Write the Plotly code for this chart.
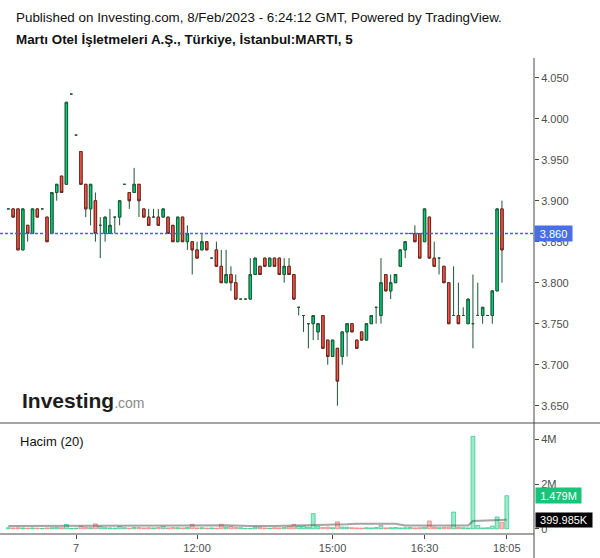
import plotly.graph_objects as go

# ---------------- data ----------------
opens = [3.89,3.89,3.89,3.84,3.87,3.86,3.89,3.89,3.88,3.86,3.91,3.93,3.92,4.03,3.98,3.96,3.92,3.89,3.90,3.87,
         3.86,3.86,3.88,3.88,3.92,3.91,3.91,3.92,3.89,3.88,3.88,3.88,3.88,3.88,3.87,3.85,3.88,3.85,3.85,3.84,
         3.84,3.85,3.83,3.84,3.82,3.80,3.81,3.80,3.78,3.78,3.78,3.81,3.82,3.83,3.82,3.83,3.83,3.81,3.82,3.81,
         3.77,3.76,3.75,3.75,3.74,3.76,3.73,3.71,3.72,3.71,3.74,3.75,3.73,3.74,3.73,3.75,3.77,3.76,3.81,3.79,
         3.80,3.82,3.84,3.86,3.86,3.86,3.85,3.88,3.83,3.83,3.82,3.80,3.76,3.76,3.76,3.75,3.75,3.76,3.76,3.76,
         3.76,3.79,3.89,3.86]
highs = [3.89,3.89,3.89,3.89,3.87,3.89,3.89,3.89,3.88,3.91,3.92,3.93,4.02,4.03,3.98,3.96,3.92,3.92,3.91,3.88,
         3.88,3.89,3.88,3.90,3.92,3.91,3.94,3.92,3.89,3.89,3.89,3.89,3.89,3.88,3.87,3.88,3.88,3.87,3.85,3.85,
         3.86,3.85,3.83,3.85,3.84,3.84,3.82,3.81,3.78,3.78,3.83,3.83,3.82,3.83,3.83,3.83,3.83,3.83,3.83,3.81,
         3.77,3.76,3.75,3.76,3.75,3.76,3.73,3.73,3.72,3.74,3.75,3.75,3.73,3.74,3.75,3.76,3.77,3.83,3.81,3.81,
         3.81,3.84,3.85,3.86,3.87,3.86,3.89,3.88,3.85,3.83,3.82,3.80,3.82,3.80,3.77,3.78,3.81,3.80,3.77,3.76,
         3.79,3.89,3.90,3.86]
lows = [3.89,3.88,3.84,3.84,3.85,3.86,3.88,3.89,3.85,3.86,3.90,3.91,3.92,4.03,3.98,3.92,3.88,3.87,3.85,3.83,
        3.85,3.86,3.86,3.87,3.92,3.89,3.91,3.88,3.88,3.87,3.88,3.87,3.88,3.86,3.85,3.85,3.85,3.84,3.81,3.83,
        3.84,3.84,3.83,3.82,3.80,3.80,3.79,3.78,3.78,3.78,3.78,3.81,3.81,3.82,3.82,3.82,3.81,3.80,3.81,3.78,
        3.76,3.74,3.72,3.73,3.73,3.72,3.70,3.71,3.65,3.70,3.71,3.74,3.72,3.73,3.73,3.75,3.75,3.75,3.79,3.78,
        3.80,3.82,3.83,3.86,3.85,3.83,3.85,3.83,3.82,3.81,3.80,3.75,3.76,3.75,3.76,3.75,3.72,3.76,3.75,3.76,
        3.75,3.79,3.80,3.86]
closes = [3.89,3.88,3.84,3.89,3.86,3.89,3.88,3.89,3.85,3.91,3.92,3.91,4.02,4.03,3.98,3.92,3.89,3.92,3.86,3.87,
          3.88,3.87,3.88,3.90,3.92,3.90,3.92,3.90,3.88,3.87,3.88,3.87,3.89,3.86,3.85,3.88,3.85,3.86,3.84,3.83,
          3.85,3.84,3.83,3.82,3.80,3.81,3.80,3.78,3.78,3.78,3.81,3.83,3.81,3.82,3.83,3.82,3.81,3.82,3.81,3.78,
          3.77,3.76,3.75,3.76,3.75,3.72,3.71,3.73,3.68,3.74,3.75,3.74,3.72,3.73,3.75,3.76,3.77,3.80,3.79,3.80,
          3.81,3.84,3.85,3.86,3.85,3.83,3.89,3.83,3.82,3.83,3.80,3.75,3.76,3.75,3.76,3.78,3.75,3.76,3.77,3.76,
          3.79,3.89,3.84,3.86]
volumes_m = [0.05,0.04,0.05,0.04,0.03,0.04,0.03,0.02,0.04,0.05,0.06,0.05,0.19,0.02,0.03,0.12,0.06,0.05,0.22,0.10,
             0.05,0.04,0.03,0.10,0.05,0.03,0.06,0.06,0.04,0.05,0.04,0.06,0.10,0.04,0.06,0.05,0.04,0.06,0.20,0.04,
             0.05,0.03,0.04,0.03,0.20,0.08,0.10,0.06,0.05,0.02,0.02,0.08,0.07,0.04,0.03,0.05,0.04,0.06,0.10,0.20,
             0.12,0.12,0.08,0.68,0.10,0.06,0.08,0.05,0.31,0.08,0.07,0.05,0.04,0.03,0.05,0.04,0.06,0.15,0.04,0.05,
             0.06,0.04,0.05,0.06,0.04,0.05,0.07,0.35,0.08,0.05,0.06,0.07,0.75,0.06,0.05,0.04,4.13,0.15,0.04,0.05,
             0.12,0.53,0.29,1.479]
ma_idx = [0, 18, 19, 36, 45, 50, 55, 62, 63, 70, 72, 80, 82, 95, 96, 100, 101, 102, 103]
ma_vals = [0.12, 0.12, 0.15, 0.15, 0.16, 0.12, 0.13, 0.15, 0.18, 0.20, 0.22, 0.22, 0.15, 0.15, 0.35, 0.36, 0.38, 0.39, 0.40]
tick_idx = [14, 39, 67, 86, 103]
tick_text = ["7", "12:00", "15:00", "16:30", "18:05"]
price_ticks = [3.65, 3.70, 3.75, 3.80, 3.85, 3.90, 3.95, 4.00, 4.05]
last_price = 3.86
last_volume_label = "1.479M"
ma_label = "399.985K"

idx = list(range(len(opens)))

# ---------------- styles ----------------
W, H = 600, 558
PL, PR, PT, PB = 0, 534, 58, 534   # plot area in pixels
SPLIT = 423
FONT = "Liberation Sans, Arial, sans-serif"
WICK = "#1f5536"
GREEN_FILL, GREEN_LINE = "#00d27a", "#1d5e3a"
RED_FILL, RED_LINE = "#ff5a4e", "#7a231c"
AXIS = "#4a4a4a"
BLUE = "#3a66f0"

def xp(px):
    return (px - PL) / (PR - PL)

def yp(py):
    return (PB - py) / (PB - PT)

# body-only arrays (dojis are left to the wick trace)
b_open, b_close, b_hi, b_lo = [], [], [], []
for o, c in zip(opens, closes):
    if o == c:
        b_open.append(None); b_close.append(None); b_hi.append(None); b_lo.append(None)
    else:
        b_open.append(o); b_close.append(c); b_hi.append(max(o, c)); b_lo.append(min(o, c))

vol_fill = ["rgba(0,200,120,0.38)" if c >= o else "rgba(245,90,80,0.38)" for o, c in zip(opens, closes)]
vol_line = ["rgba(0,190,110,0.55)" if c >= o else "rgba(240,90,80,0.5)" for o, c in zip(opens, closes)]

dom_split = yp(SPLIT)
x_lo = (PL - 8.3) / 4.84
x_hi = (PR - 8.3) / 4.84
p_top = 3.900 + (200.7 - PT) * 0.1 / 82
p_bot = 3.900 - (SPLIT - 200.7) * 0.1 / 82
v_per_px = 1 / 22.4
v_bot = -(PB - 528.8) * v_per_px
v_top = (528.8 - SPLIT) * v_per_px

fig = go.Figure()
fig.add_trace(go.Candlestick(
    x=idx, open=opens, high=highs, low=lows, close=closes,
    increasing=dict(line=dict(color=WICK, width=1), fillcolor=WICK),
    decreasing=dict(line=dict(color=WICK, width=1), fillcolor=WICK),
    xaxis="x", yaxis="y", showlegend=False, hoverinfo="skip"))
fig.add_trace(go.Candlestick(
    x=idx, open=b_open, high=b_hi, low=b_lo, close=b_close,
    increasing=dict(line=dict(color=GREEN_LINE, width=1), fillcolor=GREEN_FILL),
    decreasing=dict(line=dict(color=RED_LINE, width=1), fillcolor=RED_FILL),
    xaxis="x", yaxis="y", showlegend=False, hoverinfo="skip"))
# last-price dashed line
fig.add_trace(go.Scatter(
    x=[x_lo, x_hi], y=[last_price, last_price], mode="lines",
    line=dict(color=BLUE, width=1.5, dash="3px,2px"),
    xaxis="x", yaxis="y", showlegend=False, hoverinfo="skip", cliponaxis=False))
fig.add_trace(go.Bar(
    x=idx, y=volumes_m, width=0.8,
    marker=dict(color=vol_fill, line=dict(color=vol_line, width=1)),
    xaxis="x", yaxis="y2", showlegend=False, hoverinfo="skip"))
fig.add_trace(go.Scatter(
    x=ma_idx, y=ma_vals, mode="lines",
    line=dict(color="rgba(90,90,90,0.55)", width=2),
    xaxis="x", yaxis="y2", showlegend=False, hoverinfo="skip"))

fig.update_layout(
    width=W, height=H,
    margin=dict(l=PL, r=W - PR, t=PT, b=H - PB, pad=0),
    paper_bgcolor="white", plot_bgcolor="white",
    font=dict(family=FONT, size=11, color="#4d4d4d"),
    xaxis=dict(range=[x_lo, x_hi], anchor="y2", tickmode="array",
               tickvals=tick_idx, ticktext=tick_text, ticks="outside", ticklen=4,
               tickcolor=AXIS, showgrid=False, zeroline=False, showline=False,
               rangeslider=dict(visible=False), tickfont=dict(size=11, color="#4d4d4d")),
    yaxis=dict(domain=[dom_split, 1], range=[p_bot, p_top], side="right", anchor="x",
               tickmode="array", tickvals=price_ticks,
               ticktext=[f"{v:.3f}" for v in price_ticks], ticks="outside", ticklen=4,
               tickcolor=AXIS, showgrid=False, zeroline=False, showline=False),
    yaxis2=dict(domain=[0, dom_split], range=[v_bot, v_top], side="right", anchor="x",
                tickmode="array", tickvals=[0, 2, 4], ticktext=["0", "2M", "4M"],
                ticks="outside", ticklen=4, tickcolor=AXIS, showgrid=False,
                zeroline=False, showline=False),
    bargap=0.2,
)

shapes = [
    dict(type="line", xref="paper", yref="paper", x0=xp(PR), x1=xp(PR), y0=yp(PT), y1=yp(H),
         line=dict(color=AXIS, width=1)),
    dict(type="line", xref="paper", yref="paper", x0=0, x1=xp(W), y0=yp(SPLIT), y1=yp(SPLIT),
         line=dict(color=AXIS, width=1)),
    dict(type="line", xref="paper", yref="paper", x0=0, x1=xp(PR), y0=yp(PB), y1=yp(PB),
         line=dict(color=AXIS, width=1)),
]
fig.update_layout(shapes=shapes)

ann = [
    dict(text="Published on Investing.com, 8/Feb/2023 - 6:24:12 GMT, Powered by TradingView.",
         xref="paper", yref="paper", x=xp(14), y=yp(17), xanchor="left", yanchor="middle",
         showarrow=False, font=dict(size=13.4, color="#111111", family=FONT)),
    dict(text="<b>Martı Otel İşletmeleri A.Ş., Türkiye, İstanbul:MARTI, 5</b>",
         xref="paper", yref="paper", x=xp(14), y=yp(40), xanchor="left", yanchor="middle",
         showarrow=False, font=dict(size=13.4, color="#111111", family=FONT)),
    dict(text="Hacim (20)", xref="paper", yref="paper", x=xp(18), y=yp(441),
         xanchor="left", yanchor="middle", showarrow=False,
         font=dict(size=13, color="#111111", family=FONT)),
    dict(text="<b>Investing</b><span style='font-size:14px;color:#8a8a8a'>.com</span>",
         xref="paper", yref="paper", x=xp(20), y=yp(400), xanchor="left", yanchor="middle",
         showarrow=False, font=dict(size=21, color="#1c1c1c", family=FONT)),
    dict(text=f"{last_price:.3f}", xref="paper", yref="y", x=1, y=last_price,
         xanchor="left", yanchor="middle", showarrow=False, bgcolor="#4a6fe3",
         width=35, height=13, borderpad=1, align="center",
         font=dict(size=11, color="white", family=FONT)),
    dict(text=last_volume_label, xref="paper", yref="y2", x=xp(535), y=volumes_m[-1],
         xanchor="left", yanchor="middle", showarrow=False, bgcolor="#18c47a",
         width=43, height=13, borderpad=1, align="center",
         font=dict(size=11, color="white", family=FONT)),
    dict(text=ma_label, xref="paper", yref="y2", x=xp(535), y=ma_vals[-1],
         xanchor="left", yanchor="middle", showarrow=False, bgcolor="#000000",
         width=54, height=12, borderpad=1, align="center",
         font=dict(size=11, color="white", family=FONT)),
]
fig.update_layout(annotations=ann)

fig.write_html("out.html")
